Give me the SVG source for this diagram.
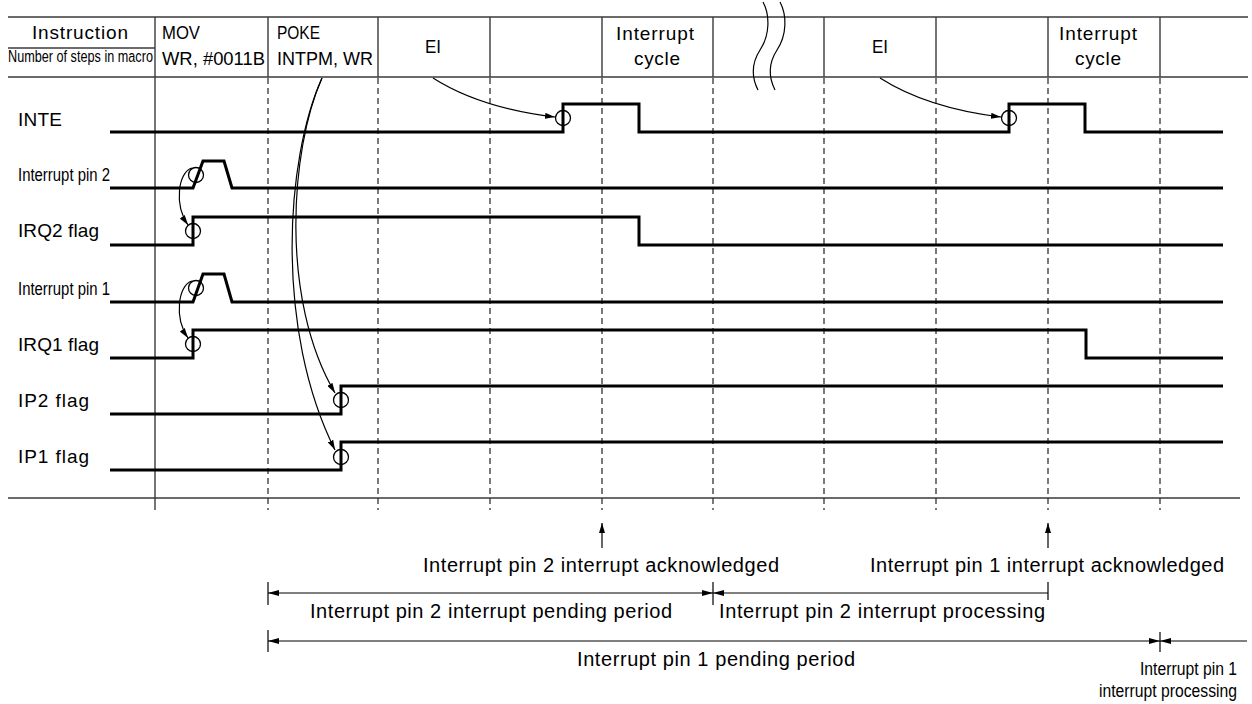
<svg xmlns="http://www.w3.org/2000/svg" width="1252" height="704" viewBox="0 0 1252 704">
<style>
  text { font-family: "Liberation Sans", Arial, sans-serif; fill: #000; }
  .h { font-size: 19px; }
  .c { font-size: 17.5px; }
  .b { font-size: 20px; }
  .grid { stroke: #3a3a3a; stroke-width: 1.4; fill: none; }
  .dash { stroke: #333; stroke-width: 1.3; stroke-dasharray: 6 4; fill: none; }
  .sig { stroke: #000; stroke-width: 3; fill: none; stroke-linejoin: miter; }
  .ring { stroke: #000; stroke-width: 1.3; fill: none; }
  .arr { stroke: #000; stroke-width: 1.2; fill: none; marker-end: url(#ah); }
  .dim { stroke: #000; stroke-width: 1.2; fill: none; }
  .dimA { stroke: #000; stroke-width: 1.2; fill: none; marker-start: url(#dh); marker-end: url(#dh); }
  .dimS { stroke: #000; stroke-width: 1.2; fill: none; marker-start: url(#dh); }
  .brk { stroke: #000; stroke-width: 1.2; fill: none; }
</style>
<defs>
  <marker id="ah" viewBox="0 0 10 6" refX="10" refY="3" markerWidth="10" markerHeight="6" markerUnits="userSpaceOnUse" orient="auto"><path d="M0,0 L10,3 L0,6 z" fill="#000"/></marker>
  <marker id="dh" viewBox="0 0 11 6" refX="11" refY="3" markerWidth="11" markerHeight="6" markerUnits="userSpaceOnUse" orient="auto-start-reverse"><path d="M0,0 L11,3 L0,6 z" fill="#000"/></marker>
</defs>

<g id="header">
  <line class="grid" x1="8" y1="17" x2="1248" y2="17"/>
  <line class="grid" x1="8" y1="48" x2="155" y2="48"/>
  <line class="grid" x1="8" y1="77" x2="1248" y2="77"/>
  <line class="grid" x1="155" y1="17" x2="155" y2="510"/>
  <line class="grid" x1="268" y1="17" x2="268" y2="77"/>
  <line class="grid" x1="378" y1="17" x2="378" y2="77"/>
  <line class="grid" x1="490" y1="17" x2="490" y2="77"/>
  <line class="grid" x1="602" y1="17" x2="602" y2="77"/>
  <line class="grid" x1="713" y1="17" x2="713" y2="77"/>
  <line class="grid" x1="824" y1="17" x2="824" y2="77"/>
  <line class="grid" x1="936" y1="17" x2="936" y2="77"/>
  <line class="grid" x1="1048" y1="17" x2="1048" y2="77"/>
  <line class="grid" x1="1160" y1="17" x2="1160" y2="77"/>
  <line class="grid" x1="8" y1="498" x2="1240" y2="498"/>
  <text class="h" x="32" y="39" textLength="96" lengthAdjust="spacing">Instruction</text>
  <text transform="translate(8,62) scale(0.745,1)" font-size="17" x="0" y="0">Number of steps in macro</text>
  <text class="h" x="162" y="39" textLength="38" lengthAdjust="spacingAndGlyphs">MOV</text>
  <text class="h" x="162" y="65" textLength="103" lengthAdjust="spacingAndGlyphs">WR, #0011B</text>
  <text class="h" x="277" y="39" textLength="43" lengthAdjust="spacingAndGlyphs">POKE</text>
  <text class="h" x="277" y="65" textLength="96" lengthAdjust="spacingAndGlyphs">INTPM, WR</text>
  <text class="h" x="425" y="53" textLength="16" lengthAdjust="spacingAndGlyphs">EI</text>
  <text class="h" x="655" y="40" text-anchor="middle" textLength="78" lengthAdjust="spacing">Interrupt</text>
  <text class="h" x="657" y="65" text-anchor="middle" textLength="46" lengthAdjust="spacing">cycle</text>
  <text class="h" x="872" y="53" textLength="16" lengthAdjust="spacingAndGlyphs">EI</text>
  <text class="h" x="1098" y="40" text-anchor="middle" textLength="78" lengthAdjust="spacing">Interrupt</text>
  <text class="h" x="1098" y="65" text-anchor="middle" textLength="46" lengthAdjust="spacing">cycle</text>
  <path class="brk" d="M763,2 C770,15 770,35 760,50 C751,64 752,78 758,90"/>
  <path class="brk" d="M780,2 C787,15 787,35 777,50 C768,64 769,78 775,90"/>
</g>

<g id="grid-dashes">
  <line class="dash" x1="268" y1="78" x2="268" y2="510"/>
  <line class="dash" x1="378" y1="78" x2="378" y2="510"/>
  <line class="dash" x1="490" y1="78" x2="490" y2="510"/>
  <line class="dash" x1="602" y1="78" x2="602" y2="510"/>
  <line class="dash" x1="713" y1="78" x2="713" y2="510"/>
  <line class="dash" x1="824" y1="78" x2="824" y2="510"/>
  <line class="dash" x1="936" y1="78" x2="936" y2="510"/>
  <line class="dash" x1="1048" y1="78" x2="1048" y2="510"/>
  <line class="dash" x1="1160" y1="78" x2="1160" y2="510"/>
</g>

<g id="sig-inte">
  <text class="h" x="18" y="126" textLength="44" lengthAdjust="spacing">INTE</text>
  <path class="sig" d="M110,132 H563 V104 H639 V132 H1009 V104 H1085 V132 H1223"/>
  <circle class="ring" cx="563" cy="118" r="7.5"/>
  <circle class="ring" cx="1009" cy="118" r="7.5"/>
</g>

<g id="sig-pin2">
  <text class="c" x="18" y="181" textLength="92" lengthAdjust="spacingAndGlyphs">Interrupt pin 2</text>
  <path class="sig" d="M110,188 H193 L203,161 H224 L232,188 H1223"/>
  <circle class="ring" cx="196" cy="175" r="7.5"/>
</g>

<g id="sig-irq2">
  <text class="h" x="18" y="237" textLength="81" lengthAdjust="spacing">IRQ2 flag</text>
  <path class="sig" d="M110,245 H193 V217 H639 V245 H1223"/>
  <circle class="ring" cx="193" cy="231" r="7.5"/>
</g>

<g id="sig-pin1">
  <text class="c" x="18" y="295" textLength="92" lengthAdjust="spacingAndGlyphs">Interrupt pin 1</text>
  <path class="sig" d="M110,302 H193 L203,274 H224 L232,302 H1223"/>
  <circle class="ring" cx="196" cy="288" r="7.5"/>
</g>

<g id="sig-irq1">
  <text class="h" x="18" y="351" textLength="81" lengthAdjust="spacing">IRQ1 flag</text>
  <path class="sig" d="M110,358 H193 V330 H1086 V358 H1223"/>
  <circle class="ring" cx="193" cy="344" r="7.5"/>
</g>

<g id="sig-ip2">
  <text class="h" x="18" y="407" textLength="71" lengthAdjust="spacing">IP2 flag</text>
  <path class="sig" d="M110,414 H341 V386 H1223"/>
  <circle class="ring" cx="341" cy="400" r="7.5"/>
</g>

<g id="sig-ip1">
  <text class="h" x="18" y="463" textLength="71" lengthAdjust="spacing">IP1 flag</text>
  <path class="sig" d="M110,470 H341 V442 H1223"/>
  <circle class="ring" cx="341" cy="457" r="7.5"/>
</g>

<g id="connectors">
  <path class="arr" d="M433,78 Q480,108 555,117"/>
  <path class="arr" d="M880,78 Q927,108 1001,117"/>
  <path class="arr" d="M192,168 C178,172 174,205 188,225"/>
  <path class="arr" d="M192,281 C178,285 174,318 188,338"/>
  <path class="arr" d="M322,78 C290,150 280,300 335,393"/>
  <path class="arr" d="M322,78 C285,160 275,330 335,450"/>
  <path class="arr" d="M602,548 V523"/>
  <path class="arr" d="M1048,548 V523"/>
  <line class="dim" x1="268" y1="582" x2="268" y2="605"/>
  <line class="dim" x1="713" y1="582" x2="713" y2="605"/>
  <line class="dim" x1="1048" y1="582" x2="1048" y2="600"/>
  <line class="dimA" x1="268" y1="593" x2="713" y2="593"/>
  <line class="dimS" x1="713" y1="593" x2="1048" y2="593"/>
  <line class="dim" x1="268" y1="630" x2="268" y2="652"/>
  <line class="dim" x1="1160" y1="632" x2="1160" y2="652"/>
  <line class="dimA" x1="268" y1="641" x2="1160" y2="641"/>
  <line class="dimS" x1="1160" y1="641" x2="1247" y2="641"/>
</g>

<g id="annotations">
  <text class="b" x="601" y="572" text-anchor="middle" textLength="356" lengthAdjust="spacing">Interrupt pin 2 interrupt acknowledged</text>
  <text class="b" x="1047" y="572" text-anchor="middle" textLength="354" lengthAdjust="spacing">Interrupt pin 1 interrupt acknowledged</text>
  <text class="b" x="310" y="618" textLength="362" lengthAdjust="spacing">Interrupt pin 2 interrupt pending period</text>
  <text class="b" x="719" y="618" textLength="326" lengthAdjust="spacing">Interrupt pin 2 interrupt processing</text>
  <text class="b" x="577" y="666" textLength="278" lengthAdjust="spacing">Interrupt pin 1 pending period</text>
  <text class="c" x="1237" y="675" text-anchor="end" textLength="97" lengthAdjust="spacingAndGlyphs">Interrupt pin 1</text>
  <text class="c" x="1237" y="697" text-anchor="end" textLength="138" lengthAdjust="spacingAndGlyphs">interrupt processing</text>
</g>
</svg>
